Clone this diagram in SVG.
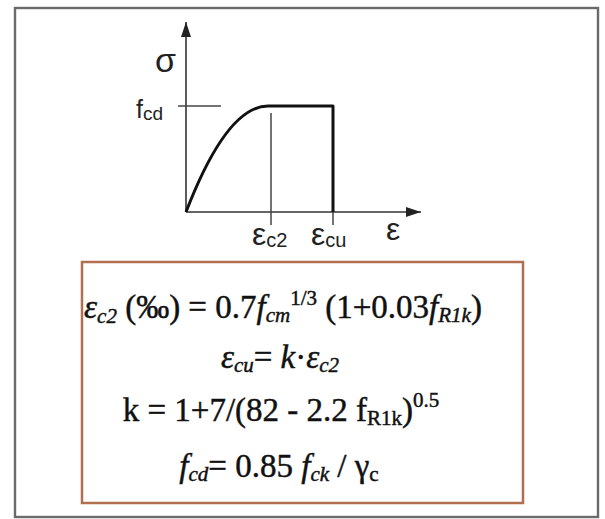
<svg xmlns="http://www.w3.org/2000/svg" width="605" height="519" viewBox="0 0 605 519">
<style>
.axis{stroke:#333;stroke-width:1.6;fill:none}
.thin{stroke:#444;stroke-width:1.5;fill:none}
.bold{stroke:#111;stroke-width:3;fill:none;stroke-linejoin:round}
.sans{font-family:"Liberation Sans",Arial,sans-serif;fill:#222}
.serif{font-family:"Liberation Serif","Times New Roman",serif;fill:#111;font-size:33px;stroke:#111;stroke-width:0.45}
.it{font-style:italic}
</style>
<defs>
<marker id="arr" markerUnits="userSpaceOnUse" markerWidth="16" markerHeight="11" refX="15" refY="5" orient="auto">
<path d="M0,0 L15,5 L0,10 z" fill="#222"/>
</marker>
</defs>
<rect width="605" height="519" fill="#fff"/>
<g id="frame">
<rect x="15" y="8" width="583" height="509" fill="#fff" stroke="#6a6a6a" stroke-width="2.4"/>
</g>
<g id="connectors">
<line class="axis" x1="186" y1="212" x2="186" y2="22" marker-end="url(#arr)"/>
<line class="axis" x1="186" y1="212" x2="421" y2="212" marker-end="url(#arr)"/>
<line class="thin" x1="178" y1="106" x2="221" y2="106"/>
<line class="thin" x1="271" y1="113" x2="271" y2="225"/>
<line class="thin" x1="333" y1="200" x2="333" y2="225"/>
</g>
<g id="curve">
<path class="bold" d="M186,212 Q227,106 268,106 L333,106 L333,212"/>
</g>
<g id="axis-labels" class="sans">
<text x="155" y="72" font-size="34">σ</text>
<text x="136" y="118" font-size="25">f<tspan font-size="19" dy="2">cd</tspan></text>
<text x="252" y="245" font-size="32">ε<tspan font-size="20" dy="2">c2</tspan></text>
<text x="311" y="245" font-size="32">ε<tspan font-size="20" dy="2">cu</tspan></text>
<text x="386" y="240" font-size="32">ε</text>
</g>
<g id="formula-box">
<rect x="82" y="262" width="441" height="241" fill="#fff" stroke="#b07050" stroke-width="2.5"/>
<text class="serif" x="283" y="318" text-anchor="middle"><tspan class="it">ε</tspan><tspan class="it" font-size="21" dy="5">c2</tspan><tspan dy="-5"> (‰) = 0.7</tspan><tspan class="it">f</tspan><tspan class="it" font-size="21" dy="4">cm</tspan><tspan font-size="21" dy="-17">1/3</tspan><tspan dy="13"> (1+0.03</tspan><tspan class="it">f</tspan><tspan class="it" font-size="21" dy="4">R1k</tspan><tspan dy="-4">)</tspan></text>
<text class="serif" x="280" y="368" text-anchor="middle"><tspan class="it">ε</tspan><tspan class="it" font-size="21" dy="4">cu</tspan><tspan dy="-4">= </tspan><tspan class="it">k</tspan>·<tspan class="it">ε</tspan><tspan class="it" font-size="21" dy="4">c2</tspan></text>
<text class="serif" x="281" y="421" text-anchor="middle">k = 1+7/(82 - 2.2 f<tspan font-size="21" dy="4">R1k</tspan><tspan dy="-4">)</tspan><tspan font-size="21" dy="-14">0.5</tspan></text>
<text class="serif" x="279" y="477" text-anchor="middle"><tspan class="it">f</tspan><tspan class="it" font-size="21" dy="4">cd</tspan><tspan dy="-4">= 0.85 </tspan><tspan class="it">f</tspan><tspan class="it" font-size="21" dy="4">ck</tspan><tspan dy="-4"> / γ</tspan><tspan font-size="21" dy="4">c</tspan></text>
</g>
</svg>
